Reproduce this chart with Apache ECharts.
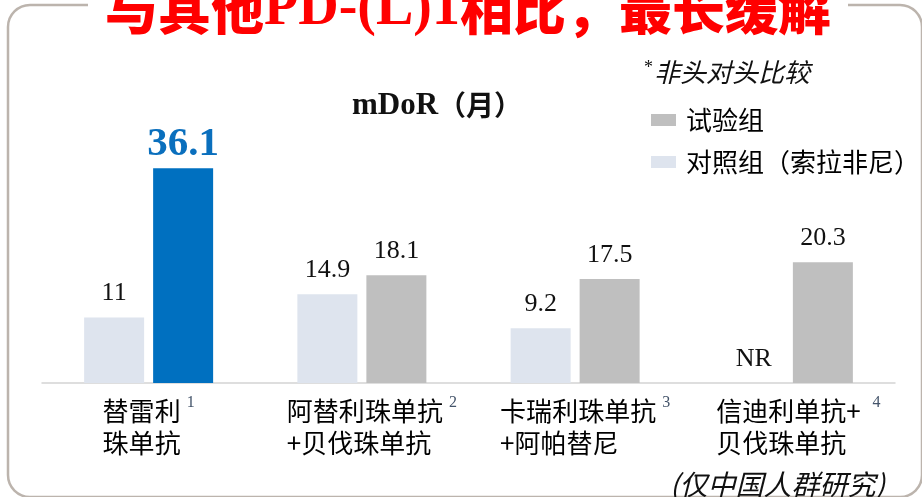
<!DOCTYPE html>
<html><head><meta charset="utf-8">
<script src="https://cdn.jsdelivr.net/npm/echarts@6/dist/echarts.min.js"></script>
<style>html,body{margin:0;padding:0;background:#fff}#c{width:922px;height:497px}</style>
</head><body><div id="c"></div>
<script>
// ---- data ----
const categoryLine1 = ['替雷利', '阿替利珠单抗', '卡瑞利珠单抗', '信迪利单抗+ '];
const categoryLine2 = ['珠单抗', '+贝伐珠单抗', '+阿帕替尼', '贝伐珠单抗'];
const categoryRefs = ['1', '2', '3', '4'];
const seriesNames = ['试验组', '对照组（索拉非尼）'];
const testValues = [36.1, 18.1, 17.5, 20.3];
const testLabels = ['36.1', '18.1', '17.5', '20.3'];
const controlValues = [11, 14.9, 9.2, 0];
const controlLabels = ['11', '14.9', '9.2', 'NR'];
const highlightIndex = 0;

const CJK = "'Noto Sans CJK SC', 'Noto Sans', sans-serif";
const SERIF = "'Liberation Serif', 'Times New Roman', 'Noto Sans CJK SC', serif";

const chart = echarts.init(document.getElementById('c'), null, {renderer: 'canvas'});

const catData = categoryLine1.map((l1, i) => ({
  value: '{t|' + l1 + '}{sup|' + categoryRefs[i] + '}\n{t|' + categoryLine2[i] + '}',
  textStyle: i === 0 ? {} : {padding: [0, 0, 0, 20]}
}));

const option = {
  animation: false,
  backgroundColor: '#fff',
  title: {
    text: '{a|mDoR}{b|（月）}',
    left: 432, top: 85, textAlign: 'center',
    textStyle: {
      rich: {
        a: {fontFamily: SERIF, fontWeight: 'bold', fontSize: 31, color: '#111'},
        b: {fontFamily: CJK, fontWeight: 'bold', fontSize: 28, color: '#111'}
      }
    }
  },
  legend: {
    data: seriesNames,
    orient: 'vertical',
    left: 646, top: 102,
    itemWidth: 25, itemHeight: 12, itemGap: 16,
    icon: 'rect',
    textStyle: {fontFamily: CJK, fontSize: 26, color: '#000', padding: [0, 0, 0, 5]}
  },
  grid: {left: 42, right: 27, top: 145, bottom: 114},
  xAxis: {
    type: 'category',
    data: catData,
    axisLine: {lineStyle: {color: '#d4d4d4', width: 1.5}},
    axisTick: {show: false},
    axisLabel: {
      interval: 0, margin: 12, align: 'center',
      rich: {
        t: {fontFamily: CJK, fontSize: 26, lineHeight: 32, color: '#000', align: 'left'},
        sup: {fontFamily: SERIF, fontSize: 16, lineHeight: 32, color: '#44546a', align: 'left', verticalAlign: 'top', padding: [0, 0, 0, 6]}
      }
    }
  },
  yAxis: {type: 'value', min: 0, max: 40, show: false, splitLine: {show: false}},
  series: [
    {
      name: seriesNames[1], type: 'bar', barWidth: 60, barGap: '15%',
      itemStyle: {color: '#dee4ee'},
      data: controlValues.map((v, i) => ({value: v})),
      label: {
        show: true, position: 'top', distance: 11,
        fontFamily: SERIF, fontSize: 26, color: '#111',
        formatter: p => controlLabels[p.dataIndex]
      }
    },
    {
      name: seriesNames[0], type: 'bar', barWidth: 60, barGap: '15%',
      itemStyle: {color: '#bfbfbf'},
      data: testValues.map((v, i) => i === highlightIndex ? {
        value: v, itemStyle: {color: '#0070c0'},
        label: {fontSize: 41, fontWeight: 'bold', color: '#0a6fbd', distance: 3}
      } : {value: v}),
      label: {
        show: true, position: 'top', distance: 11,
        fontFamily: SERIF, fontSize: 26, color: '#111',
        formatter: p => testLabels[p.dataIndex]
      }
    }
  ],
  graphic: [
    {type: 'rect', z: 0, silent: true,
     shape: {x: 8, y: 5, width: 914, height: 492, r: 22},
     style: {fill: 'none', stroke: '#bcb4ad', lineWidth: 2.5}},
    {type: 'rect', z: 1, silent: true,
     shape: {x: 88, y: 0, width: 760, height: 14},
     style: {fill: '#fff'}},
    {type: 'text', z: 2, silent: true, x: 468, y: 10,
     style: {
       text: '{a|与其他}{b|PD-(L)1}{a|相比，最长缓解}',
       textAlign: 'center', textVerticalAlign: 'middle',
       rich: {
         a: {fontFamily: CJK, fontWeight: 900, fontSize: 53, fill: '#ff0000'},
         b: {fontFamily: SERIF, fontWeight: 'bold', fontSize: 56, fill: '#ff0000'}
       }
     }},
    {type: 'text', z: 2, silent: true, x: 644, y: 72,
     style: {
       text: '{s|*}{i|非头对头比较}',
       textAlign: 'left', textVerticalAlign: 'middle',
       rich: {
         s: {fontFamily: SERIF, fontSize: 18, fill: '#111', verticalAlign: 'top', padding: [0, 1, 0, 0]},
         i: {fontFamily: CJK, fontStyle: 'italic', fontSize: 26, fill: '#111'}
       }
     }},
    {type: 'text', z: 2, silent: true, x: 670, y: 484,
     style: {
       text: '(仅中国人群研究)',
       textAlign: 'left', textVerticalAlign: 'middle',
       fontFamily: CJK, fontStyle: 'italic', fontSize: 28, fill: '#111'
     }}
  ]
};
chart.setOption(option);
</script></body></html>
